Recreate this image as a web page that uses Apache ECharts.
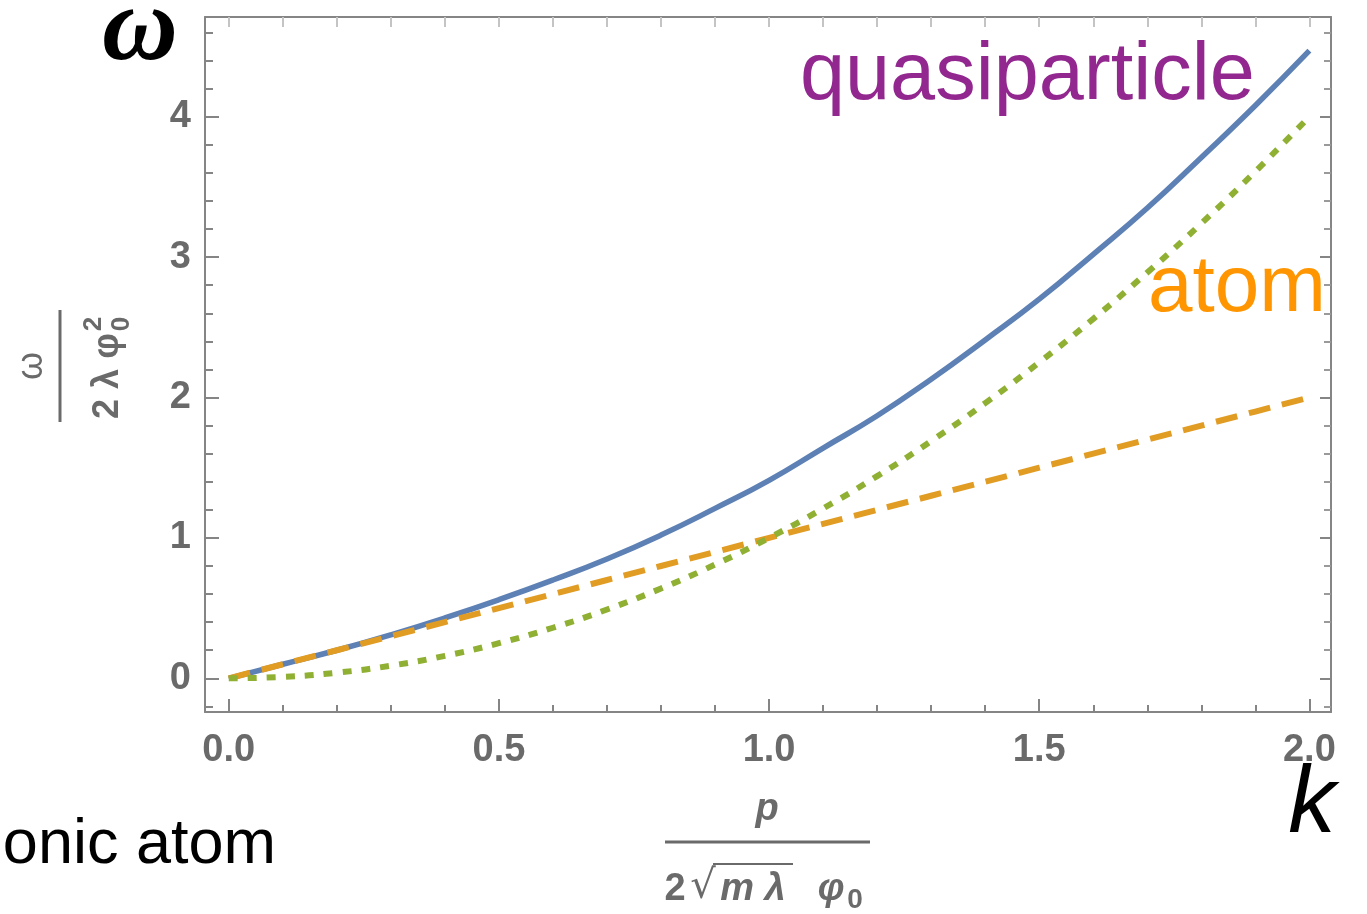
<!DOCTYPE html>
<html>
<head>
<meta charset="utf-8">
<script src="https://cdn.jsdelivr.net/npm/echarts@6/dist/echarts.min.js"></script>
<style>
  html, body { margin: 0; padding: 0; background: #fff; }
  #chart { width: 1367px; height: 914px; }
</style>
</head>
<body>
<div id="chart"></div>
<script>
// k = p / (2 sqrt(m lambda) phi0), every 0.1
const kValues = [0, 0.1, 0.2, 0.3, 0.4, 0.5, 0.6, 0.7, 0.8, 0.9, 1.0,
  1.1, 1.2, 1.3, 1.4, 1.5, 1.6, 1.7, 1.8, 1.9, 2.0];
// blue solid curve (quasiparticle)
const quasiparticleOmega = [0, 0.10, 0.20, 0.31, 0.43, 0.56, 0.70, 0.85, 1.02, 1.21, 1.41,
  1.64, 1.87, 2.13, 2.41, 2.70, 3.02, 3.35, 3.71, 4.08, 4.47];
// orange dashed line
const linearOmega = [0, 0.1, 0.2, 0.3, 0.4, 0.5, 0.6, 0.7, 0.8, 0.9, 1.0,
  1.1, 1.2, 1.3, 1.4, 1.5, 1.6, 1.7, 1.8, 1.9, 2.0];
// green dotted curve (atom)
const atomOmega = [0, 0.01, 0.04, 0.09, 0.16, 0.25, 0.36, 0.49, 0.64, 0.81, 1.0,
  1.21, 1.44, 1.69, 1.96, 2.25, 2.56, 2.89, 3.24, 3.61, 4.0];

const xMajorTicks = [0, 0.5, 1.0, 1.5, 2.0];
const xMinorTicks = [0.1, 0.2, 0.3, 0.4, 0.6, 0.7, 0.8, 0.9, 1.1, 1.2, 1.3, 1.4, 1.6, 1.7, 1.8, 1.9];
const yMajorTicks = [0, 1, 2, 3, 4];
const yMinorTicks = [-0.2, 0.2, 0.4, 0.6, 0.8, 1.2, 1.4, 1.6, 1.8, 2.2, 2.4, 2.6, 2.8,
  3.2, 3.4, 3.6, 3.8, 4.2, 4.4, 4.6];

const X_MIN = -0.044, X_MAX = 2.04;
const Y_MIN = -0.24, Y_MAX = 4.71;

const AXIS_GRAY = '#858585';
const LABEL_GRAY = '#6a6a6a';
const SANS = 'Liberation Sans, Arial, sans-serif';
const gridBox = { left: 205, right: 36, top: 17, bottom: 202 };

function zip(xs, ys) {
  return xs.map((x, i) => [x, ys[i]]);
}

const chart = echarts.init(document.getElementById('chart'), null, { renderer: 'canvas' });

const baseAxis = {
  type: 'value',
  splitLine: { show: false },
  axisPointer: { show: false }
};

const option = {
  animation: false,
  backgroundColor: '#fff',
  grid: [
    Object.assign({ containLabel: false }, gridBox),
    Object.assign({ containLabel: false }, gridBox)
  ],
  xAxis: [
    Object.assign({}, baseAxis, {
      gridIndex: 0, position: 'bottom', min: X_MIN, max: X_MAX,
      axisLine: { show: true, onZero: false, lineStyle: { color: AXIS_GRAY, width: 2 } },
      axisTick: { show: true, inside: true, length: 13, customValues: xMajorTicks,
        lineStyle: { color: AXIS_GRAY, width: 2 } },
      axisLabel: { show: true, customValues: xMajorTicks, margin: 20,
        formatter: v => v.toFixed(1),
        fontSize: 38, fontWeight: 'bold', color: LABEL_GRAY, fontFamily: SANS }
    }),
    Object.assign({}, baseAxis, {
      gridIndex: 0, position: 'top', min: X_MIN, max: X_MAX,
      axisLine: { show: true, onZero: false, lineStyle: { color: AXIS_GRAY, width: 2 } },
      axisTick: { show: true, inside: true, length: 10, customValues: xMajorTicks.concat(xMinorTicks),
        lineStyle: { color: '#c4c4c4', width: 2 } },
      axisLabel: { show: false }
    }),
    Object.assign({}, baseAxis, {
      gridIndex: 1, position: 'bottom', min: X_MIN, max: X_MAX,
      axisLine: { show: false, onZero: false },
      axisTick: { show: true, inside: true, length: 7, customValues: xMinorTicks,
        lineStyle: { color: AXIS_GRAY, width: 2 } },
      axisLabel: { show: false }
    })
  ],
  yAxis: [
    Object.assign({}, baseAxis, {
      gridIndex: 0, position: 'left', min: Y_MIN, max: Y_MAX,
      axisLine: { show: true, onZero: false, lineStyle: { color: AXIS_GRAY, width: 2 } },
      axisTick: { show: true, inside: true, length: 14, customValues: yMajorTicks,
        lineStyle: { color: AXIS_GRAY, width: 2 } },
      axisLabel: { show: true, customValues: yMajorTicks, margin: 14,
        formatter: v => String(v),
        fontSize: 38, fontWeight: 'bold', color: LABEL_GRAY, fontFamily: SANS }
    }),
    Object.assign({}, baseAxis, {
      gridIndex: 0, position: 'right', min: Y_MIN, max: Y_MAX,
      axisLine: { show: true, onZero: false, lineStyle: { color: AXIS_GRAY, width: 2 } },
      axisTick: { show: true, inside: true, length: 11, customValues: yMajorTicks,
        lineStyle: { color: AXIS_GRAY, width: 2 } },
      axisLabel: { show: false }
    }),
    Object.assign({}, baseAxis, {
      gridIndex: 1, position: 'left', min: Y_MIN, max: Y_MAX,
      axisLine: { show: false, onZero: false },
      axisTick: { show: true, inside: true, length: 8, customValues: yMinorTicks,
        lineStyle: { color: AXIS_GRAY, width: 2 } },
      axisLabel: { show: false }
    }),
    Object.assign({}, baseAxis, {
      gridIndex: 1, position: 'right', min: Y_MIN, max: Y_MAX,
      axisLine: { show: false, onZero: false },
      axisTick: { show: true, inside: true, length: 7, customValues: yMinorTicks,
        lineStyle: { color: '#9a9a9a', width: 2 } },
      axisLabel: { show: false }
    })
  ],
  series: [
    {
      name: 'quasiparticle', type: 'line', xAxisIndex: 0, yAxisIndex: 0,
      data: zip(kValues, quasiparticleOmega),
      showSymbol: false, smooth: 0.5,
      lineStyle: { color: '#5e81b5', width: 5.5 },
      z: 2
    },
    {
      name: 'linear', type: 'line', xAxisIndex: 0, yAxisIndex: 0,
      data: zip(kValues, linearOmega),
      showSymbol: false,
      lineStyle: { color: '#e19c24', width: 6, type: [22, 12], cap: 'butt' },
      z: 3
    },
    {
      name: 'atom', type: 'line', xAxisIndex: 0, yAxisIndex: 0,
      data: zip(kValues, atomOmega),
      showSymbol: false, smooth: 0.5,
      lineStyle: { color: '#8fb032', width: 6, type: [9, 10], cap: 'butt' },
      z: 4
    }
  ],
  graphic: [
    // annotations
    { type: 'text', x: 800, y: 77, z: 10,
      style: { text: 'quasiparticle', fill: '#92278f', fontSize: 81, fontFamily: SANS,
        textAlign: 'left', textVerticalAlign: 'middle' } },
    { type: 'text', x: 1148, y: 289, z: 10,
      style: { text: 'atom', fill: '#ff9500', fontSize: 80, fontFamily: SANS,
        textAlign: 'left', textVerticalAlign: 'middle' } },
    { type: 'text', x: 140, y: 32, z: 10,
      style: { text: 'ω', fill: '#000', fontSize: 105, fontStyle: 'italic', fontWeight: 'bold',
        fontFamily: 'Liberation Serif, DejaVu Serif, serif',
        textAlign: 'center', textVerticalAlign: 'middle' } },
    { type: 'text', x: 1312, y: 806, z: 10,
      style: { text: 'k', fill: '#000', fontSize: 95, fontStyle: 'italic', fontFamily: SANS,
        textAlign: 'center', textVerticalAlign: 'middle' } },
    { type: 'text', x: 276, y: 846, z: 10,
      style: { text: 'onic atom', fill: '#000', fontSize: 63, fontFamily: SANS,
        textAlign: 'right', textVerticalAlign: 'middle' } },

    // x-axis title: p / (2 sqrt(m lambda) phi0)
    { type: 'group', x: 767, y: 842, z: 10, children: [
      { type: 'text', x: 0, y: -32,
        style: { text: 'p', fill: LABEL_GRAY, fontSize: 38, fontStyle: 'italic', fontWeight: 'bold',
          fontFamily: SANS, textAlign: 'center', textVerticalAlign: 'middle' } },
      { type: 'line', shape: { x1: -102, y1: 0, x2: 103, y2: 0 },
        style: { stroke: LABEL_GRAY, lineWidth: 3 } },
      { type: 'text', x: -92, y: 48,
        style: { text: '2', fill: LABEL_GRAY, fontSize: 38, fontWeight: 'bold',
          fontFamily: SANS, textAlign: 'center', textVerticalAlign: 'middle' } },
      { type: 'text', x: -64, y: 46,
        style: { text: '√', fill: LABEL_GRAY, fontSize: 40,
          fontFamily: 'DejaVu Sans, sans-serif', textAlign: 'center', textVerticalAlign: 'middle' } },
      { type: 'line', shape: { x1: -54, y1: 22, x2: 26, y2: 22 },
        style: { stroke: LABEL_GRAY, lineWidth: 2 } },
      { type: 'text', x: -14, y: 48,
        style: { text: 'm λ', fill: LABEL_GRAY, fontSize: 38, fontStyle: 'italic', fontWeight: 'bold',
          fontFamily: SANS, textAlign: 'center', textVerticalAlign: 'middle' } },
      { type: 'text', x: 64, y: 48,
        style: { text: 'φ', fill: LABEL_GRAY, fontSize: 38, fontStyle: 'italic', fontWeight: 'bold',
          fontFamily: SANS, textAlign: 'center', textVerticalAlign: 'middle' } },
      { type: 'text', x: 88, y: 58,
        style: { text: '0', fill: LABEL_GRAY, fontSize: 28, fontWeight: 'bold',
          fontFamily: SANS, textAlign: 'center', textVerticalAlign: 'middle' } }
    ] },

    // y-axis title: omega / (2 lambda phi0^2), rotated
    { type: 'group', x: 60, y: 366, rotation: Math.PI / 2, z: 10, children: [
      { type: 'text', x: 0, y: -28,
        style: { text: 'ω', fill: LABEL_GRAY, fontSize: 36,
          fontFamily: SANS, textAlign: 'center', textVerticalAlign: 'middle' } },
      { type: 'line', shape: { x1: -56, y1: 0, x2: 56, y2: 0 },
        style: { stroke: LABEL_GRAY, lineWidth: 3 } },
      { type: 'text', x: -10, y: 48,
        style: { text: '2 λ φ', fill: LABEL_GRAY, fontSize: 36, fontWeight: 'bold',
          fontFamily: SANS, textAlign: 'center', textVerticalAlign: 'middle' } },
      { type: 'text', x: 42, y: 34,
        style: { text: '2', fill: LABEL_GRAY, fontSize: 26, fontWeight: 'bold',
          fontFamily: SANS, textAlign: 'center', textVerticalAlign: 'middle' } },
      { type: 'text', x: 42, y: 62,
        style: { text: '0', fill: LABEL_GRAY, fontSize: 26, fontWeight: 'bold',
          fontFamily: SANS, textAlign: 'center', textVerticalAlign: 'middle' } }
    ] }
  ]
};

chart.setOption(option);
</script>
</body>
</html>
